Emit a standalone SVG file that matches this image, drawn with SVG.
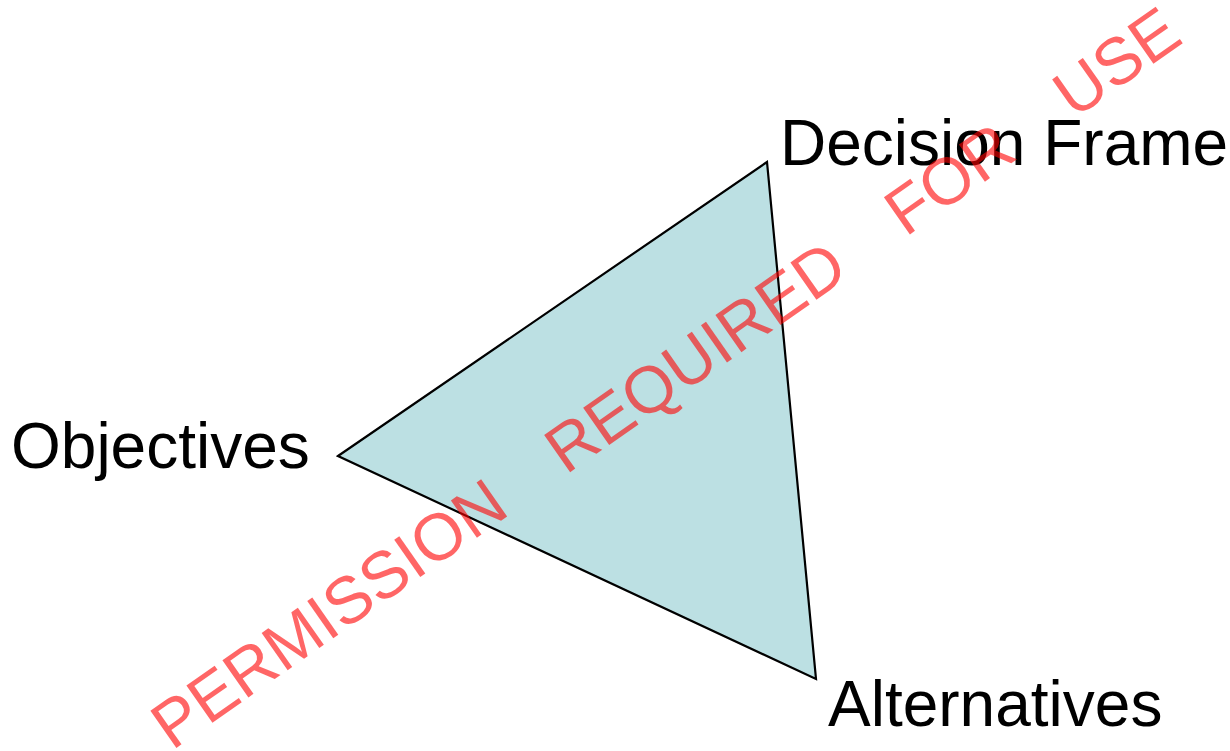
<svg xmlns="http://www.w3.org/2000/svg" width="1230" height="751" viewBox="0 0 1230 751">
<style>
.lbl{font-family:"Liberation Sans",Arial,sans-serif;font-size:64px;fill:#000}
.wm{font-family:"Liberation Sans",Arial,sans-serif;font-size:66px;fill:#FF0000;fill-opacity:0.6;word-spacing:48px}
</style>
<rect width="1230" height="751" fill="#fff"/>
<g id="triangle">
<polygon points="338,456 767,162 816,679" fill="#BCE0E3" stroke="#000" stroke-width="2.2" stroke-linejoin="miter"/>
</g>
<g id="decision-frame"><text class="lbl" x="780" y="165">Decision Frame</text></g>
<g id="objectives"><text class="lbl" x="11" y="468">Objectives</text></g>
<g id="alternatives"><text class="lbl" x="828" y="726">Alternatives</text></g>
<g id="watermark"><text class="wm" x="0" y="0" transform="translate(172,751) rotate(-35)">PERMISSION REQUIRED FOR USE</text></g>
</svg>
